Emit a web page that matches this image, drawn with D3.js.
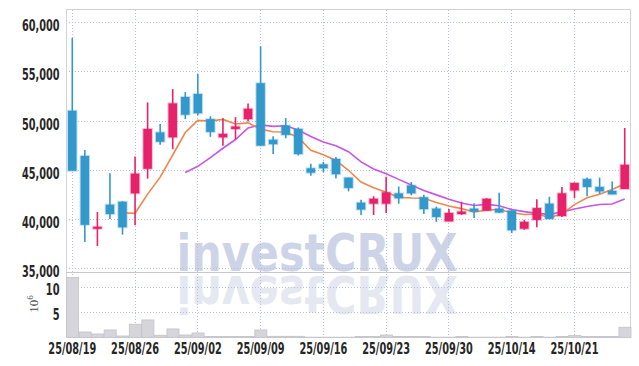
<!DOCTYPE html>
<html>
<head>
<meta charset="utf-8">
<title>investCRUX daily candles</title>
<script src="https://d3js.org/d3.v7.min.js"></script>
<style>
body { margin: 0; background: #fff; }
.lbl text { font-family: "Liberation Sans Narrow", "DejaVu Sans Condensed", sans-serif; font-size: 15px; font-weight: bold; fill: #262626; }
.lbl path, .lbl line { display: none; }
.grid line { stroke: #b7bfd9; stroke-dasharray: 1,2; shape-rendering: crispEdges; }
.grid path, .grid text { display: none; }
</style>
</head>
<body>
<div id="chart"></div>
<script>

// trading days (yy/mm/dd)
var dates = ["25/08/19","25/08/20","25/08/21","25/08/22","25/08/25","25/08/26","25/08/27","25/08/28","25/08/29",
  "25/09/01","25/09/02","25/09/03","25/09/04","25/09/05","25/09/08","25/09/09","25/09/10","25/09/11","25/09/12",
  "25/09/15","25/09/16","25/09/17","25/09/18","25/09/19","25/09/22","25/09/23","25/09/24","25/09/25","25/09/26",
  "25/09/29","25/09/30","25/10/01","25/10/02","25/10/10","25/10/13","25/10/14","25/10/15","25/10/16","25/10/17",
  "25/10/20","25/10/21","25/10/22","25/10/23","25/10/24","25/10/27"];

var opens  = [51000,46400,39000,41450,41750,42600,45100,48800,48300,52400,52700,50150,48300,49150,50150,53800,48050,49500,49150,
  45150,45550,46100,44200,41650,41550,41550,42600,43400,42200,41050,39750,40500,41050,40850,41050,40850,39000,39900,41550,
  40300,42900,44050,43250,42850,43050];
var highs  = [58400,47000,40700,44650,41800,46350,51850,49650,53200,52900,54750,50450,50250,50350,51750,57550,48400,50250,49300,
  45600,45800,46300,44200,41950,42300,44300,43300,43750,42450,41250,41000,41750,41600,42100,42650,40900,39900,42000,42250,
  43250,43700,44200,44200,43800,49250];
var lows   = [44900,37650,37250,40000,38400,39350,44100,47550,47100,50150,50550,48350,47450,48100,49900,47450,46600,48200,46450,
  44400,44750,44100,42800,40400,40400,40600,41550,42400,40500,39700,39750,40400,40100,40850,40600,38550,38900,39150,40000,
  40200,42100,42300,42550,42500,43050];
var closes = [44900,39400,39200,40500,39150,44600,49150,47850,51750,50600,50750,48850,48650,49400,51200,47450,47600,48550,46600,
  44700,45150,44550,43150,40950,42050,42700,42100,42600,41000,40200,40600,40750,40750,42050,40650,38850,39700,41100,40000,
  42600,43650,43250,42800,42500,45500];

// volume, millions of shares
var volume = [11.9,1.06,0.66,1.46,0.26,2.6,3.46,0.4,1.66,0.46,0.86,0.15,0.15,0.15,0.15,1.46,0.2,0.2,0.2,
  0.03,0.03,0.03,0.03,0.18,0.18,0.45,0.18,0.18,0.18,0.03,0.03,0.15,0.03,0.03,0.03,0.15,0.03,0.15,0.03,
  0.15,0.35,0.18,0.15,0.15,2.0];

// moving averages
var ma5 = [null,null,null,null,40630,40570,42520,44250,46500,48790,50020,49960,50120,49650,49770,49110,48860,48840,48280,
  46980,46520,45950,44950,43750,43170,42700,42200,42120,42100,41680,41320,41050,40700,40900,40950,40630,40450,40500,40150,
  40500,41450,42150,42500,43000,43580];
var ma10 = [null,null,null,null,null,null,null,null,null,44730,45350,46240,47185,48075,49250,49565,49410,49480,49050,
  48375,47830,47450,46840,45800,45080,44600,44020,43440,42895,42445,41990,41610,41370,41480,41340,40955,40740,40565,40465,
  40705,41010,41260,41465,41510,42020];

var priceTicks = [35000,40000,45000,50000,55000,60000];
var volTicks = [5,10];
var dateTicks = ["25/08/19","25/08/26","25/09/02","25/09/09","25/09/16","25/09/23","25/09/30","25/10/14","25/10/21"];

var width = 639, height = 366;
var plotL = 66, plotR = 631, plotT = 9.5, split = 272.5, plotB = 337.5;

var svg = d3.select("#chart").append("svg")
    .attr("width", width)
    .attr("height", height);

var x = d3.scaleBand().domain(d3.range(dates.length)).range([plotL, plotR]).padding(0);
var cx = function(i) { return x(i) + x.bandwidth() / 2; };
var yP = d3.scaleLinear().domain([34550, 61320]).range([split, plotT - 0.2]);
var yV = d3.scaleLinear().domain([0, 12.9]).range([plotB - 0.2, split]);

// rough widths for a narrow sans, so labels keep their size whatever font is found
function narrowLen(s) {
  var w = 0;
  for (var k = 0; k < s.length; k++) w += /[0-9]/.test(s[k]) ? 0.456 : 0.228;
  return w * 15;
}

// watermark + its reflection
var wm = svg.append("g").attr("font-family", "'DejaVu Sans', sans-serif")
    .attr("font-weight", "bold").attr("font-size", 52);
wm.append("text").attr("x", 176.5).attr("y", 270.5)
    .attr("textLength", 281).attr("lengthAdjust", "spacingAndGlyphs")
    .attr("fill", "#ced4e7").text("investCRUX");
wm.append("text").attr("x", 176.5).attr("y", 270.5)
    .attr("transform", "translate(0,546) scale(1,-1)")
    .attr("textLength", 281).attr("lengthAdjust", "spacingAndGlyphs")
    .attr("fill", "#e5e8f1").text("investCRUX");

// grids
svg.append("g").attr("class", "grid").attr("transform", "translate(" + plotL + ",0)")
    .call(d3.axisLeft(yP).tickValues(priceTicks).tickSize(-(plotR - plotL)).tickFormat(""));
svg.append("g").attr("class", "grid").attr("transform", "translate(" + plotL + ",0)")
    .call(d3.axisLeft(yV).tickValues(volTicks).tickSize(-(plotR - plotL)).tickFormat(""));
var tickIdx = dateTicks.map(function(d) { return dates.indexOf(d); });
svg.append("g").attr("class", "grid").attr("transform", "translate(0," + plotB + ")")
    .call(d3.axisBottom(x).tickValues(tickIdx).tickSize(-(plotB - plotT)).tickFormat(""));

// frame and panel separator
svg.append("rect").attr("x", plotL + 0.5).attr("y", plotT).attr("width", plotR - plotL - 1).attr("height", plotB - plotT)
    .attr("fill", "none").attr("stroke", "#d2d2d8");
svg.append("line").attr("x1", plotL).attr("x2", plotR).attr("y1", split).attr("y2", split)
    .attr("stroke", "#c6c6cc");

// volume bars
svg.append("g").selectAll("rect")
    .data(volume)
  .enter().append("rect")
    .attr("x", function(d, i) { return x(i) + 0.5; })
    .attr("width", x.bandwidth() - 0.5)
    .attr("y", function(d) { return yV(d); })
    .attr("height", function(d) { return yV(0) - yV(d); })
    .attr("fill", "#d5d5db")
    .attr("stroke", "#c2c2c9")
    .attr("stroke-width", 0.8);

// moving averages
var line = d3.line()
    .defined(function(d) { return d != null; })
    .x(function(d, i) { return cx(i); })
    .y(function(d) { return yP(d); });
svg.append("path").datum(ma10).attr("d", line)
    .attr("fill", "none").attr("stroke", "#c755e6").attr("stroke-width", 1.6);
svg.append("path").datum(ma5).attr("d", line)
    .attr("fill", "none").attr("stroke", "#ef874d").attr("stroke-width", 1.6);

// candles
var up = "#e6226b", down = "#3399cc";
function col(i) { return closes[i] >= opens[i] ? up : down; }
var candles = svg.append("g").selectAll("g")
    .data(dates)
  .enter().append("g");
candles.append("line")
    .attr("x1", function(d, i) { return cx(i); })
    .attr("x2", function(d, i) { return cx(i); })
    .attr("y1", function(d, i) { return yP(highs[i]); })
    .attr("y2", function(d, i) { return yP(lows[i]); })
    .attr("stroke", function(d, i) { return col(i); })
    .attr("stroke-width", 1.6);
candles.append("rect")
    .attr("x", function(d, i) { return cx(i) - 4.25; })
    .attr("width", 8.5)
    .attr("y", function(d, i) { return yP(Math.max(opens[i], closes[i])); })
    .attr("height", function(d, i) { return Math.max(2, Math.abs(yP(opens[i]) - yP(closes[i]))); })
    .attr("fill", function(d, i) { return col(i); })
    .attr("stroke", function(d, i) { return col(i); })
    .attr("stroke-opacity", 0.3)
    .attr("stroke-width", 2);

// price axis labels
var pAx = svg.append("g").attr("class", "lbl").attr("transform", "translate(" + plotL + ",0)")
    .call(d3.axisLeft(yP).tickValues(priceTicks).tickSize(0).tickPadding(6.5).tickFormat(d3.format(",")));
pAx.selectAll("text").attr("dy", 0).attr("y", 8.5)
    .attr("textLength", function(d) { return narrowLen(d3.format(",")(d)); })
    .attr("lengthAdjust", "spacingAndGlyphs");

// volume axis labels
var vAx = svg.append("g").attr("class", "lbl").attr("transform", "translate(" + plotL + ",0)")
    .call(d3.axisLeft(yV).tickValues(volTicks).tickSize(0).tickPadding(6.5));
vAx.selectAll("text").attr("dy", 0).attr("y", 7)
    .attr("textLength", function(d) { return narrowLen(String(d)); })
    .attr("lengthAdjust", "spacingAndGlyphs");

var unit = svg.append("text")
    .attr("transform", "translate(38,304) rotate(-90)")
    .attr("text-anchor", "middle")
    .attr("font-family", "'Liberation Serif', 'DejaVu Serif', serif")
    .attr("font-size", 13)
    .attr("fill", "#444");
unit.append("tspan").text("10");
unit.append("tspan").attr("dy", -5).attr("font-size", 9).text("6");

// date labels
var xAx = svg.append("g").attr("class", "lbl").attr("transform", "translate(0," + plotB + ")")
    .call(d3.axisBottom(x).tickValues(tickIdx).tickSize(0).tickFormat(function(i) { return dates[i]; }));
xAx.selectAll("text").attr("dy", 0).attr("y", 16.5)
    .attr("textLength", function(i) { return narrowLen(dates[i]); })
    .attr("lengthAdjust", "spacingAndGlyphs");

</script>
</body>
</html>
